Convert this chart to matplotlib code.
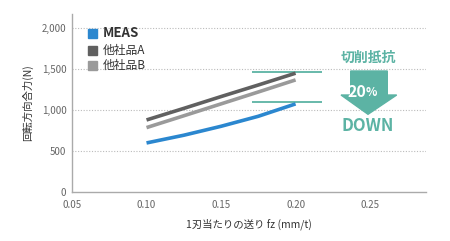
import matplotlib
matplotlib.use('Agg')
import matplotlib.pyplot as plt
from matplotlib.patches import Polygon, Rectangle

plt.rcParams['font.family'] = ['Noto Sans CJK JP', 'DejaVu Sans']

# Data
feed = [0.10, 0.125, 0.15, 0.175, 0.20]
meas = [594, 688, 797, 919, 1070]
other_a = [874, 1015, 1159, 1300, 1444]
other_b = [781, 925, 1070, 1215, 1362]
series_names = ['MEAS', '他社品A', '他社品B']
series_colors = ['#2b87cf', '#606060', '#9a9a9a']
x_ticks = [0.05, 0.10, 0.15, 0.20, 0.25]
y_ticks = [0, 500, 1000, 1500, 2000]
y_tick_labels = ['0', '500', '1,000', '1,500', '2,000']
teal = '#5cb3a4'

fig = plt.figure(figsize=(4.5, 2.41), dpi=100)
ax = fig.add_axes([72 / 450, 1 - 191.7 / 241, (426 - 72) / 450, (191.7 - 14) / 241])

for vals, color in zip([meas, other_a, other_b], series_colors):
    ax.plot(feed, vals, color=color, lw=2.6, solid_capstyle='butt',
            solid_joinstyle='round', zorder=3)

# reference markers at the end of the lines
ax.hlines([other_a[-1] + 12, meas[-1] + 20], 0.1706, 0.218, color=teal, lw=1.3, zorder=2)

ax.set_xlim(0.05, 0.2875)
ax.set_ylim(0, 2165)
ax.set_xticks(x_ticks)
ax.set_xticklabels([f'{v:.2f}' for v in x_ticks])
ax.set_yticks(y_ticks)
ax.set_yticklabels(y_tick_labels)
ax.tick_params(length=0, labelsize=7, colors='#666666', pad=4)
ax.tick_params(axis='x', pad=6)
for yv in y_ticks[1:]:
    ax.axhline(yv, color='#bbbbbb', lw=0.8, ls=(0, (1, 1.5)), zorder=1)
for side in ['top', 'right']:
    ax.spines[side].set_visible(False)
for side in ['left', 'bottom']:
    ax.spines[side].set_color('#aaaaaa')
    ax.spines[side].set_linewidth(1.0)

ax.set_xlabel('1刃当たりの送り fz (mm/t)', fontsize=7.5, color='#333333', labelpad=6)
ax.set_ylabel('回転方向合力(N)', fontsize=7.5, color='#333333', labelpad=6)

# legend
ly = [33, 50, 65]
for name, color, y in zip(series_names, series_colors, ly):
    fig.patches.append(Rectangle((88 / 450, 1 - (y + 4.5) / 241), 9 / 450, 9 / 241,
                                 transform=fig.transFigure, color=color))
    fig.text(103 / 450, 1 - y / 241, name, fontsize=9.5 if name == 'MEAS' else 8.5,
             fontweight='bold' if name == 'MEAS' else 'normal',
             color='#333333', va='center', ha='left')

# down arrow
px = [(350.7, 71), (387.3, 71), (387.3, 95), (396.7, 95), (368, 114.3),
      (341, 95), (350.7, 95)]
fig.patches.append(Polygon([(x / 450, 1 - y / 241) for x, y in px], closed=True,
                           transform=fig.transFigure, color=teal))
fig.text(368 / 450, 1 - 58.3 / 241, '切削抵抗', fontsize=10, fontweight='bold',
         color=teal, ha='center', va='center')
fig.text(366 / 450, 1 - 92 / 241, '20', fontsize=11.5, fontweight='bold',
         color='white', ha='right', va='center')
fig.text(366 / 450, 1 - 92.5 / 241, '%', fontsize=8.5, fontweight='bold',
         color='white', ha='left', va='center')
fig.text(368 / 450, 1 - 125.7 / 241, 'DOWN', fontsize=12, fontweight='bold',
         color=teal, ha='center', va='center')

fig.savefig('out.png', dpi=100)
